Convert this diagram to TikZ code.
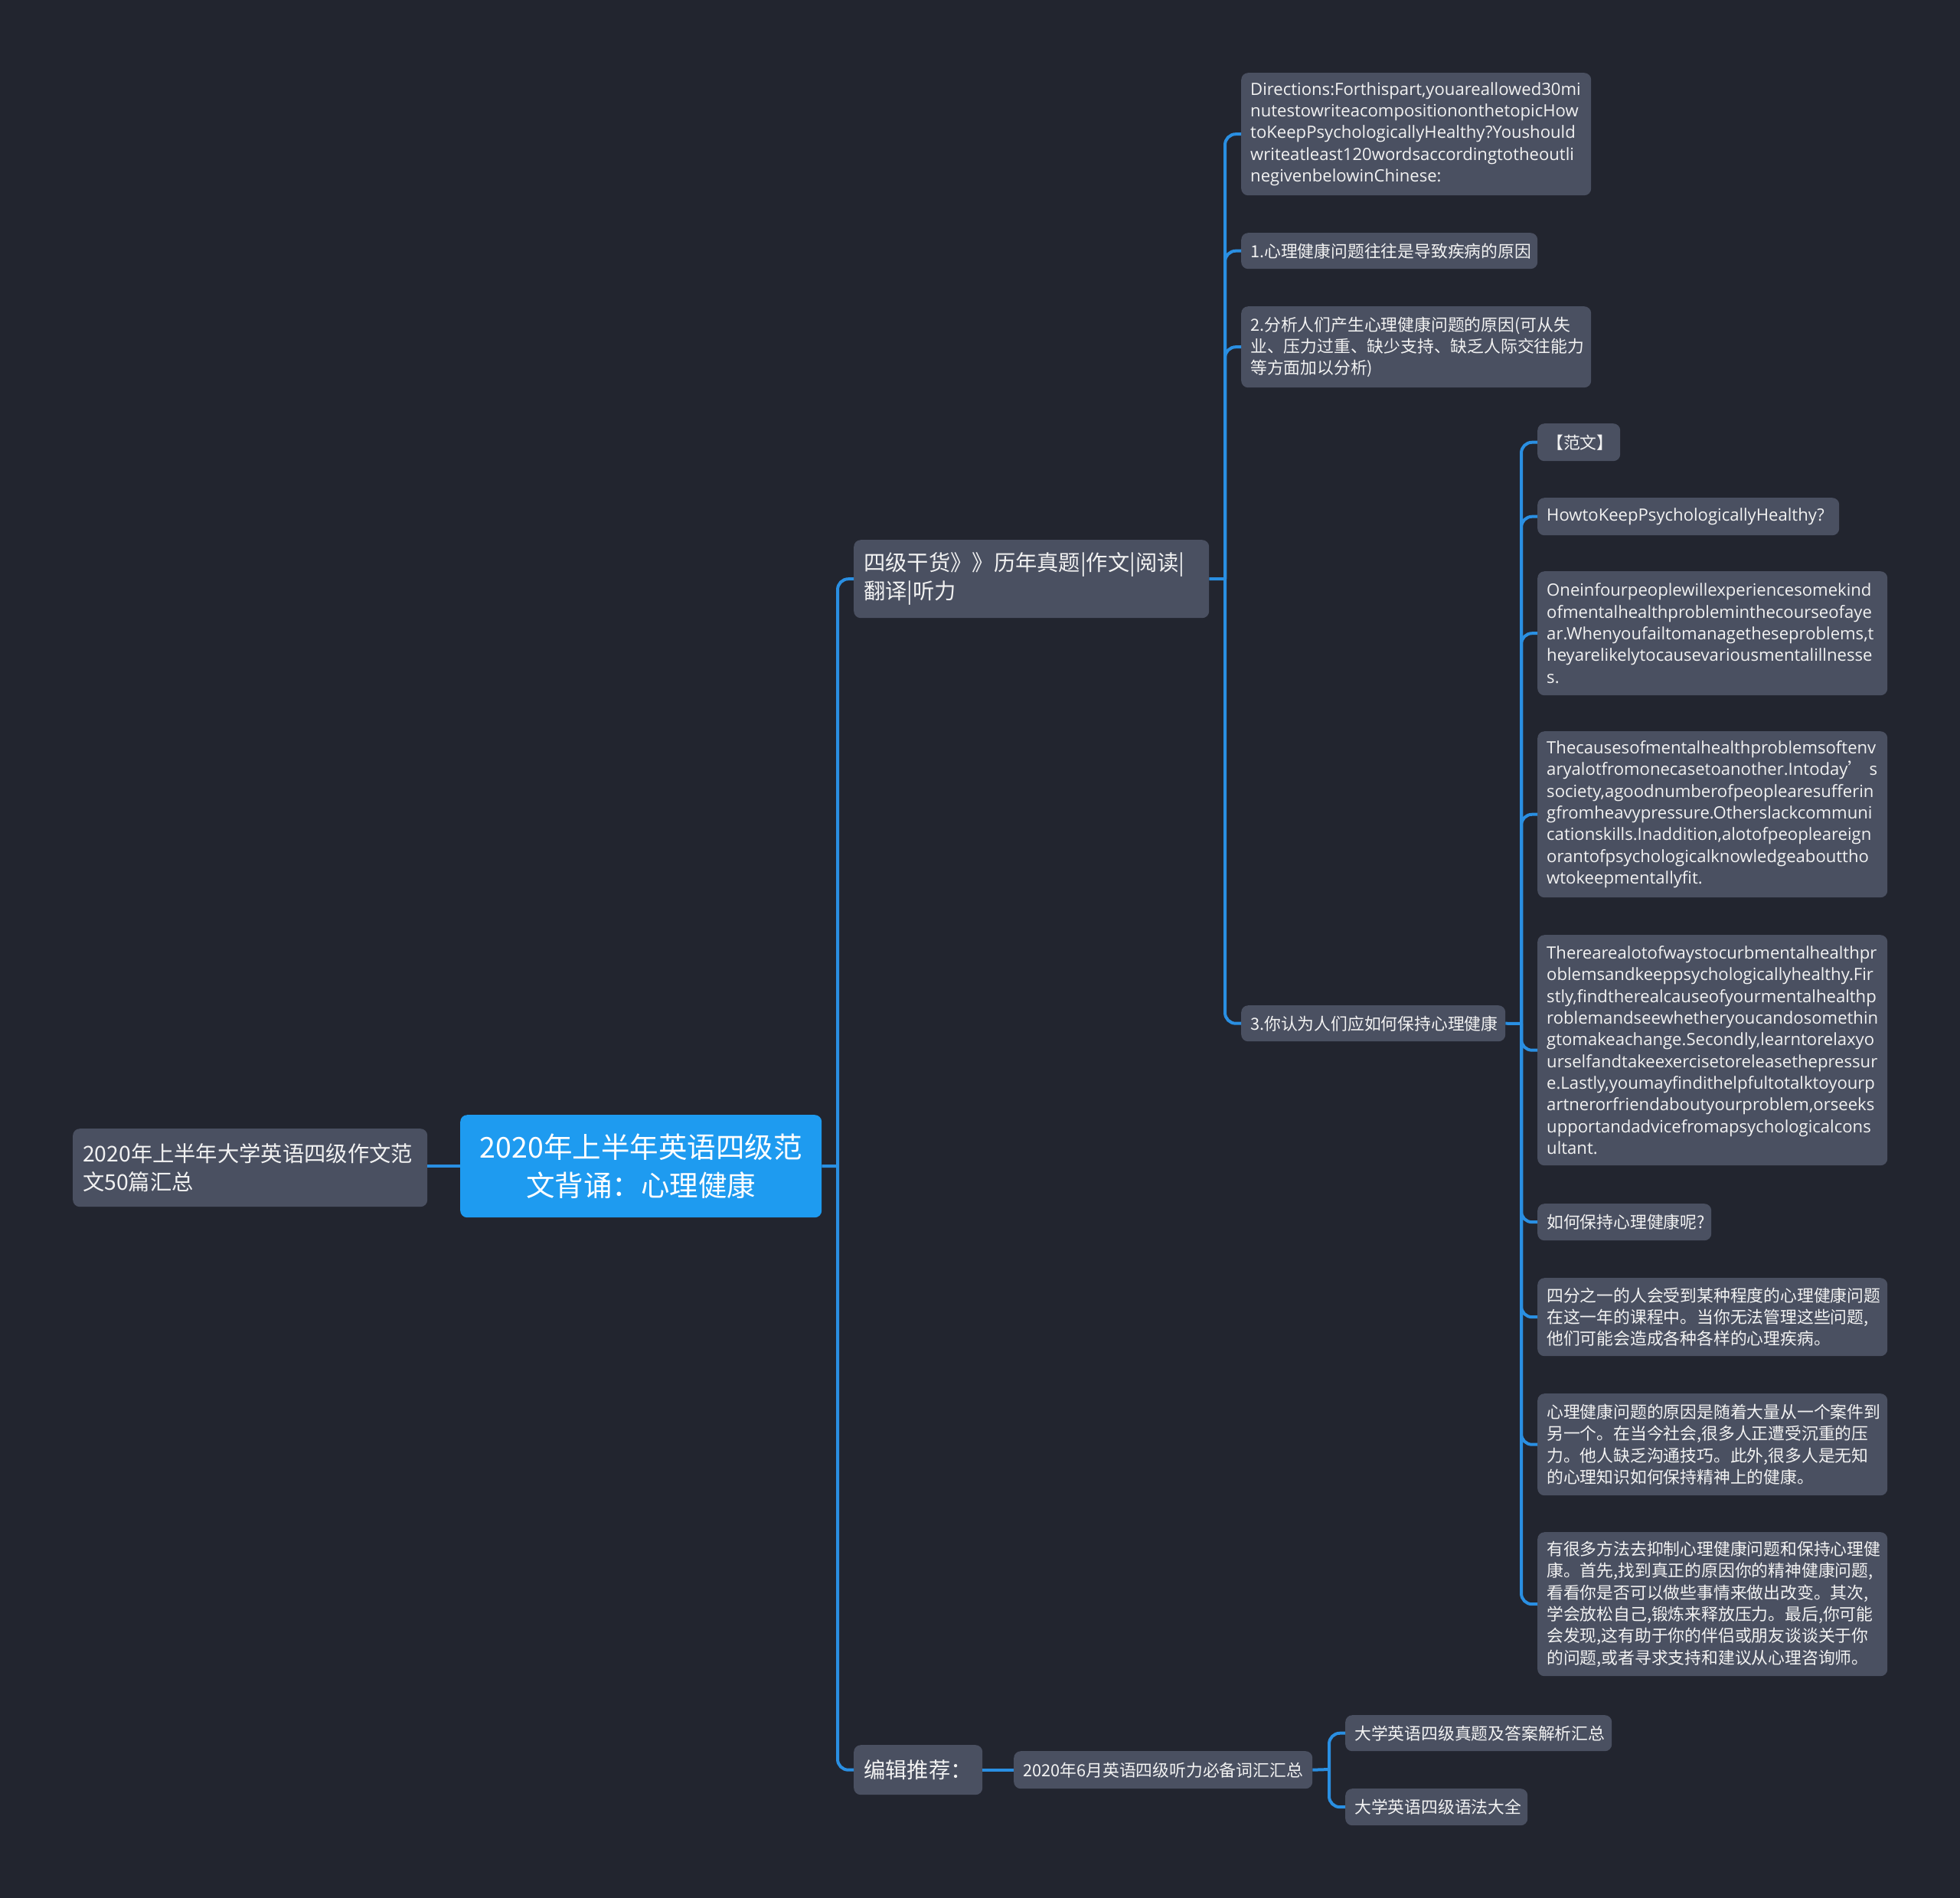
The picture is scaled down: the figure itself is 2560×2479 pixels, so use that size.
\documentclass[tikz,border=0pt]{standalone}
\usepackage{fontspec}
\setmainfont{Noto Sans CJK SC}
\newfontfamily\latin{Open Sans}
\newfontfamily\cjk{Noto Sans CJK SC}
\definecolor{bg}{HTML}{22252F}
\definecolor{nodefill}{HTML}{4A5061}
\definecolor{rootfill}{HTML}{1E9BF0}
\definecolor{linec}{HTML}{2A8FE2}
\definecolor{txt}{HTML}{F2F2F2}
\tikzset{
  box/.style={fill=nodefill, rounded corners=9pt, text=txt, anchor=north west,
    inner xsep=12pt, inner ysep=0pt, align=left},
  small/.style={box, font=\fontsize{21.8}{28.3}\selectfont},
  smalllat/.style={box, font=\latin\fontsize{22.1}{28.3}\selectfont},
  mid/.style={box, font=\fontsize{28.3}{37.5}\selectfont, inner xsep=13pt},
  rootbox/.style={fill=rootfill, rounded corners=9pt, text=white, anchor=north west,
    inner xsep=8pt, inner ysep=0pt, align=center, font=\fontsize{37.5}{50.5}\selectfont},
  conn/.style={draw=linec, line width=4pt, rounded corners=14pt},
}
\begin{document}
\begin{tikzpicture}[x=1pt,y=-1pt]
\fill[bg] (0,0) rectangle (2560,2479);
\useasboundingbox (0,0) rectangle (2560,2479);

% nodes
\node[mid, minimum width=463, minimum height=102, text width=437] (left) at (95,1474)
  {2020年上半年大学英语四级作文范\\文50篇汇总};
\node[rootbox, minimum width=472, minimum height=134, text width=456] (root) at (601,1456)
  {2020年上半年英语四级范\\文背诵：心理健康};
\node[mid, minimum width=464, minimum height=102, text width=438] (a) at (1115,705)
  {四级干货》》历年真题|作文|阅读|\\翻译|听力};
\node[mid, minimum width=168, minimum height=65, text width=142] (b) at (1115,2279)
  {编辑推荐：};

\node[smalllat, minimum width=457, minimum height=160, text width=433] (d1) at (1621,95)
  {Directions:Forthispart,youareallowed30mi\\nutestowriteacompositiononthetopicHow\\toKeepPsychologicallyHealthy?Youshould\\writeatleast120wordsaccordingtotheoutli\\negivenbelowinChinese:};
\node[small, minimum width=387, minimum height=47, text width=363] (d2) at (1621,304)
  {1.心理健康问题往往是导致疾病的原因};
\node[small, minimum width=457, minimum height=106, text width=433] (d3) at (1621,400)
  {2.分析人们产生心理健康问题的原因(可从失\\业、压力过重、缺少支持、缺乏人际交往能力\\等方面加以分析)};
\node[small, minimum width=345, minimum height=47, text width=321] (d4) at (1621,1313)
  {3.你认为人们应如何保持心理健康};

\node[small, minimum width=108, minimum height=49, text width=84] (e1) at (2008,553)
  {【范文】};
\node[smalllat, minimum width=394, minimum height=49, text width=370] (e2) at (2008,650)
  {HowtoKeepPsychologicallyHealthy?};
\node[smalllat, minimum width=457, minimum height=162, text width=433] (e3) at (2008,746)
  {Oneinfourpeoplewillexperiencesomekind\\ofmentalhealthprobleminthecourseofaye\\ar.Whenyoufailtomanagetheseproblems,t\\heyarelikelytocausevariousmentalillnesse\\s.};
\node[smalllat, minimum width=457, minimum height=217, text width=433] (e4) at (2008,955)
  {Thecausesofmentalhealthproblemsoftenv\\\mbox{aryalotfromonecasetoanother.Intoday{\cjk ’}\kern6pt s}\\society,agoodnumberofpeoplearesufferin\\gfromheavypressure.Otherslackcommuni\\cationskills.Inaddition,alotofpeopleareign\\orantofpsychologicalknowledgeabouttho\\wtokeepmentallyfit.};
\node[smalllat, minimum width=457, minimum height=301, text width=433] (e5) at (2008,1221)
  {Therearealotofwaystocurbmentalhealthpr\\oblemsandkeeppsychologicallyhealthy.Fir\\stly,findtherealcauseofyourmentalhealthp\\roblemandseewhetheryoucandosomethin\\gtomakeachange.Secondly,learntorelaxyo\\urselfandtakeexercisetoreleasethepressur\\e.Lastly,youmayfindithelpfultotalktoyourp\\artnerorfriendaboutyourproblem,orseeks\\upportandadvicefromapsychologicalcons\\ultant.};
\node[small, minimum width=227, minimum height=48, text width=203] (e6) at (2008,1572)
  {如何保持心理健康呢?};
\node[small, minimum width=457, minimum height=102, text width=433] (e7) at (2008,1669)
  {四分之一的人会受到某种程度的心理健康问题\\在这一年的课程中。当你无法管理这些问题,\\他们可能会造成各种各样的心理疾病。};
\node[small, minimum width=457, minimum height=133, text width=433] (e8) at (2008,1820)
  {心理健康问题的原因是随着大量从一个案件到\\另一个。在当今社会,很多人正遭受沉重的压\\力。他人缺乏沟通技巧。此外,很多人是无知\\的心理知识如何保持精神上的健康。};
\node[small, minimum width=457, minimum height=188, text width=433] (e9) at (2008,2001)
  {有很多方法去抑制心理健康问题和保持心理健\\康。首先,找到真正的原因你的精神健康问题,\\看看你是否可以做些事情来做出改变。其次,\\学会放松自己,锻炼来释放压力。最后,你可能\\会发现,这有助于你的伴侣或朋友谈谈关于你\\的问题,或者寻求支持和建议从心理咨询师。};

\node[small, minimum width=390, minimum height=49, text width=366] (f0) at (1324,2287)
  {2020年6月英语四级听力必备词汇汇总};
\node[small, minimum width=348, minimum height=47, text width=324] (f1) at (1757,2240)
  {大学英语四级真题及答案解析汇总};
\node[small, minimum width=238, minimum height=48, text width=214] (f2) at (1757,2336)
  {大学英语四级语法大全};

% connectors
\draw[conn] (root.west) -- (root.west -| left.east);
\coordinate (j0) at (1094,1523);
\draw[conn] (root.east) -- (j0);
\draw[conn] (j0) |- (a.west);
\draw[conn] (j0) |- (b.west);

\coordinate (j1) at (1600,756);
\draw[conn] (a.east) -- (j1);
\foreach \n in {d1,d2,d3,d4} \draw[conn] (j1) |- (\n.west);

\coordinate (j2) at (1987,1337);
\draw[conn] (d4.east) -- (j2);
\foreach \n in {e1,e2,e3,e4,e5,e6,e7,e8,e9} \draw[conn] (j2) |- (\n.west);

\draw[conn] (b.east) -- (f0.west);
\coordinate (j3) at (1736,2311);
\draw[conn] (f0.east) -- (j3);
\draw[conn] (j3) |- (f1.west);
\draw[conn] (j3) |- (f2.west);
\end{tikzpicture}
\end{document}
